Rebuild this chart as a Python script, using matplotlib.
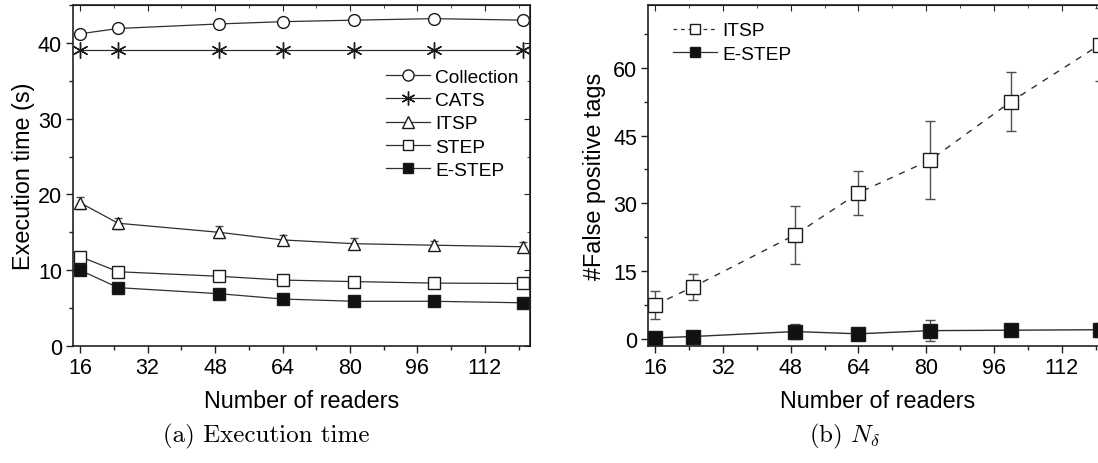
import numpy as np
import matplotlib
matplotlib.use("Agg")
import matplotlib.pyplot as plt
from matplotlib.lines import Line2D
from matplotlib.ticker import MultipleLocator

plt.rcParams['font.family'] = ['Liberation Sans', 'DejaVu Sans']
plt.rcParams['mathtext.fontset'] = 'cm'

# ---------------------------------------------------------------------------
# data
# ---------------------------------------------------------------------------
readers = [16, 25, 49, 64, 81, 100, 121]

# (a) execution time (s)
collection = [41.2, 41.9, 42.5, 42.8, 43.0, 43.2, 43.0]
collection_err = [0.4, 0.5, 0.5, 0.5, 0.5, 0.5, 0.5]
cats = [39.0, 39.0, 39.0, 39.0, 39.0, 39.0, 39.0]
itsp_time = [18.9, 16.2, 15.0, 14.0, 13.5, 13.3, 13.1]
itsp_time_err = [0.8, 0.7, 0.8, 0.7, 0.7, 0.6, 0.6]
step_time = [11.8, 9.8, 9.2, 8.7, 8.5, 8.3, 8.25]
step_time_err = [0.6, 0.5, 0.5, 0.5, 0.5, 0.4, 0.4]
estep_time = [10.0, 7.7, 6.9, 6.2, 5.9, 5.9, 5.7]

# (b) number of false positive tags
itsp_fp = [7.5, 11.5, 23.0, 32.3, 39.6, 52.5, 65.1]
itsp_fp_err = [3.1, 2.9, 6.5, 4.9, 8.6, 6.6, 8.1]
estep_fp = [0.2, 0.5, 1.6, 1.1, 1.8, 1.9, 2.0]
estep_fp_err = [0.3, 0.3, 1.6, 0.5, 2.3, 1.0, 1.5]

LINE = '#303030'
EDGE = '#1a1a1a'
ERR = '#505050'
TICK_FS = 15.5
LABEL_FS = 16.8
LEG_FS = 13.8

fig = plt.figure(figsize=(10.98, 4.64), dpi=100)
ax1 = fig.add_axes([73 / 1098, 117 / 464, 457 / 1098, 341 / 464])
ax2 = fig.add_axes([648 / 1098, 117 / 464, 459 / 1098, 341 / 464])


def style_axes(ax, ymajor, yminor):
    ax.xaxis.set_major_locator(MultipleLocator(16))
    ax.xaxis.set_minor_locator(MultipleLocator(8))
    ax.yaxis.set_major_locator(MultipleLocator(ymajor))
    ax.yaxis.set_minor_locator(MultipleLocator(yminor))
    ax.tick_params(which='major', direction='out', length=5, width=1.0,
                   labelsize=TICK_FS, color='#222222', pad=3)
    ax.tick_params(which='minor', direction='out', length=3, width=1.0,
                   color='#222222')
    for sp in ax.spines.values():
        sp.set_linewidth(1.2)
        sp.set_color('#222222')
    # inward ticks on the top and right sides, no labels
    top = ax.secondary_xaxis('top')
    top.xaxis.set_major_locator(MultipleLocator(16))
    top.xaxis.set_minor_locator(MultipleLocator(8))
    top.tick_params(which='both', direction='in', labeltop=False,
                    color='#222222')
    top.tick_params(which='major', length=4)
    top.tick_params(which='minor', length=2.5)
    right = ax.secondary_yaxis('right')
    right.yaxis.set_major_locator(MultipleLocator(ymajor))
    right.yaxis.set_minor_locator(MultipleLocator(yminor))
    right.tick_params(which='both', direction='in', labelright=False,
                      color='#222222')
    right.tick_params(which='major', length=4)
    right.tick_params(which='minor', length=2.5)


def handle(marker, mfc, ls='-', ms=7.5):
    return Line2D([], [], color=LINE, lw=0.9, ls=ls, marker=marker, mfc=mfc,
                  mec=EDGE, mew=1.0, ms=ms)


# ---------------------------------------------------------------------------
# (a) execution time
# ---------------------------------------------------------------------------
ms = 8.5
common = dict(color=LINE, lw=0.9, mec=EDGE, mew=1.0, ms=ms,
              ecolor=ERR, elinewidth=0.9, capsize=3)
ax1.errorbar(readers, collection, yerr=collection_err, marker='o', mfc='white',
             **common)
ax1.plot(readers, cats, color=LINE, lw=0.9, marker=(6, 2, 0), ms=ms + 3,
         mec=EDGE, mew=1.0)
ax1.errorbar(readers, itsp_time, yerr=itsp_time_err, marker='^', mfc='white',
             **common)
ax1.errorbar(readers, step_time, yerr=step_time_err, marker='s', mfc='white',
             **common)
ax1.plot(readers, estep_time, color=LINE, lw=0.9, marker='s', mfc='#111111',
         mec=EDGE, ms=ms)

ax1.set_xlim(14.3, 122.7)
ax1.set_ylim(0, 45)
style_axes(ax1, 10, 5)
ax1.set_xlabel('Number of readers', fontsize=LABEL_FS, labelpad=8)
ax1.set_ylabel('Execution time (s)', fontsize=LABEL_FS, labelpad=2)

leg1_handles = [handle('o', 'white', ms=8), handle((6, 2, 0), 'white', ms=10),
                handle('^', 'white', ms=8), handle('s', 'white', ms=6.5),
                handle('s', '#111111', ms=6.5)]
leg1_labels = ['Collection', 'CATS', 'ITSP', 'STEP', 'E-STEP']
ax1.legend(leg1_handles, leg1_labels, loc='upper left',
           bbox_to_anchor=(0.685, 0.815), frameon=False, fontsize=LEG_FS,
           handlelength=2.3, handletextpad=0.25, labelspacing=0.31,
           borderpad=0, borderaxespad=0)

# ---------------------------------------------------------------------------
# (b) false positive tags
# ---------------------------------------------------------------------------
ax2.errorbar(readers, itsp_fp, yerr=itsp_fp_err, marker='s', mfc='white',
             color=LINE, lw=1.0, ls=(0, (4.5, 5)), mec=EDGE, mew=1.0, ms=ms + 1,
             ecolor=ERR, elinewidth=1.0, capsize=3.5)
ax2.errorbar(readers, estep_fp, yerr=estep_fp_err, marker='s', mfc='#111111',
             color=LINE, lw=1.0, mec=EDGE, mew=1.0, ms=ms + 1,
             ecolor=ERR, elinewidth=1.0, capsize=3.5)

ax2.set_xlim(14.3, 122.7)
ax2.set_ylim(-1.6, 73.9)
style_axes(ax2, 15, 7.5)
ax2.set_xlabel('Number of readers', fontsize=LABEL_FS, labelpad=8)
ax2.set_ylabel('#False positive tags', fontsize=LABEL_FS, labelpad=5)
leg2_handles = [handle('s', 'white', ls=(0, (3, 3)), ms=7.5),
                handle('s', '#111111', ms=7.5)]
ax2.legend(leg2_handles, ['ITSP', 'E-STEP'], loc='upper left',
           bbox_to_anchor=(0.055, 0.95), frameon=False, fontsize=LEG_FS,
           handlelength=2.3, handletextpad=0.25, labelspacing=0.31,
           borderpad=0, borderaxespad=0)

# captions
fig.text(266 / 1098, 1 - 436 / 464, '(a) Execution time', family='cmr10',
         fontsize=18, ha='center', va='center')
fig.text(845 / 1098, 1 - 436 / 464, r'(b) $N_\delta$', family='cmr10',
         fontsize=18, ha='center', va='center')

fig.savefig('out.png', dpi=100)
